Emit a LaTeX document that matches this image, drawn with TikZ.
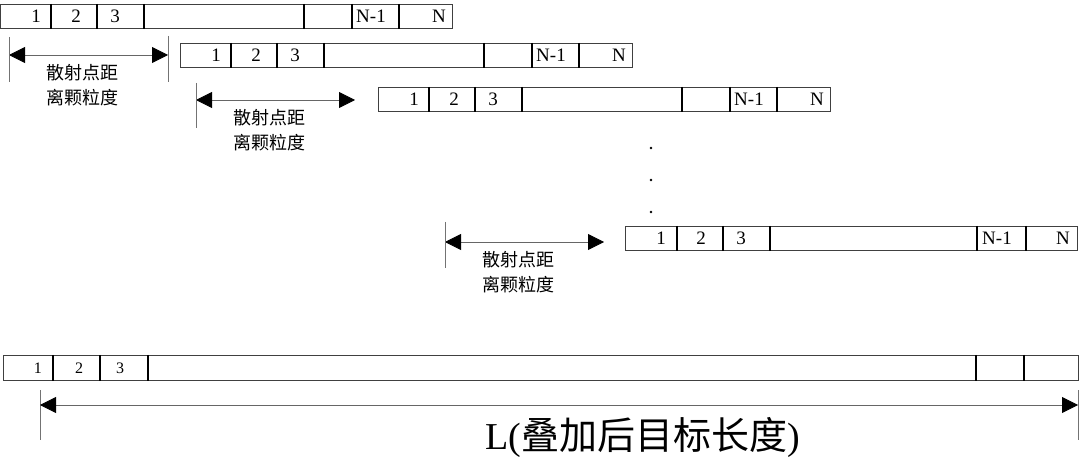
\documentclass[tikz,border=0pt]{standalone}
\usepackage{fontspec}
\setmainfont{Liberation Serif}
\newfontfamily\cjk{Noto Sans CJK SC}
\usetikzlibrary{arrows.meta,calc}

\begin{document}
\begin{tikzpicture}[x=1pt, y=-1pt,
  bar/.style={draw=black!75, line width=0.8pt, minimum width=452pt,
              minimum height=24pt, inner sep=0pt, anchor=north west},
  sep/.style={line width=1.8pt},
  num/.style={font=\fontsize{19}{19}\selectfont, inner sep=0pt},
  tick/.style={draw=black!55, line width=0.7pt},
  gap/.style={{Triangle[length=16pt,width=16pt,color=black]}-{Triangle[length=16pt,width=16pt,color=black]},
              draw=black!60, line width=0.8pt},
  lbl/.style={font=\cjk\fontsize{18}{25}\selectfont, align=center, inner sep=0pt},
  dot/.style={circle, fill, inner sep=0pt, minimum size=2.6pt}
]
\useasboundingbox (0,0) rectangle (1080,465);

%% --- Shifted copies of the scatter sequence ---
\foreach \r/\x/\y in {r1/0/4, r2/180/43, r3/378/87} {
  \node[bar] (\r) at (\x,\y) {};
  \foreach \d in {51,97,144,304,352,399}
    \draw[sep] ([xshift=\d pt]\r.north west) -- ([xshift=\d pt]\r.south west);
  \foreach \t/\p in {1/36,2/76,3/115,N-1/371,N/439}
    \node[num] at ([xshift=\p pt]\r.west) {\t};
}

%% --- Last copy ---
\node[bar] (r4) at (625,226) {};
\foreach \d in {52,98,145,352,401}
  \draw[sep] ([xshift=\d pt]r4.north west) -- ([xshift=\d pt]r4.south west);
\foreach \t/\p in {1/36,2/76,3/116,N-1/372,N/438}
  \node[num] at ([xshift=\p pt]r4.west) {\t};

%% --- Ellipsis ---
\node[dot] (d1) at (651,148) {};
\node[dot] (d2) at (651,180) {};
\node[dot] (d3) at (651,212) {};

%% --- Spacing arrows ---
\foreach \g/\xa/\xb/\y in {g1/9/168/55, g2/196/355/100, g3/445/604/242} {
  \coordinate (\g l) at (\xa,\y);
  \coordinate (\g r) at (\xb,\y);
  \draw[gap] (\g l) -- (\g r);
  \node[lbl, below=9pt] at ($(\g l)!0.5!(\g r)+(-6,0)$) {散射点距\\离颗粒度};
}
\draw[tick] ([yshift=18pt]g1l) -- ([yshift=-27pt]g1l);
\draw[tick] ([yshift=19pt]g1r) -- ([yshift=-27pt]g1r);
\draw[tick] ([yshift=17pt]g2l) -- ([yshift=-28pt]g2l);
\draw[tick] ([yshift=20pt]g3l) -- ([yshift=-26pt]g3l);

%% --- Superimposed result ---
\node[bar, minimum width=1075pt, minimum height=25pt] (sum) at (3,355) {};
\foreach \d in {50,97,145,973,1021}
  \draw[sep] ([xshift=\d pt]sum.north west) -- ([xshift=\d pt]sum.south west);
\foreach \t/\p in {1/35,2/76,3/117}
  \node[num, font=\fontsize{16}{16}\selectfont] at ([xshift=\p pt]sum.west) {\t};

\coordinate (Ll) at (40,405);
\coordinate (Lr) at (1078,405);
\draw[tick] ([yshift=15pt]Ll) -- ([yshift=-35pt]Ll);
\draw[tick] ([yshift=15pt]Lr) -- ([yshift=-35pt]Lr);
\draw[gap] (Ll) -- (Lr);
\node[inner sep=0pt] (Ltxt) at (643,437)
  {\fontsize{38}{38}\selectfont L(\cjk 叠加后目标长度\rmfamily)};
\end{tikzpicture}
\end{document}
